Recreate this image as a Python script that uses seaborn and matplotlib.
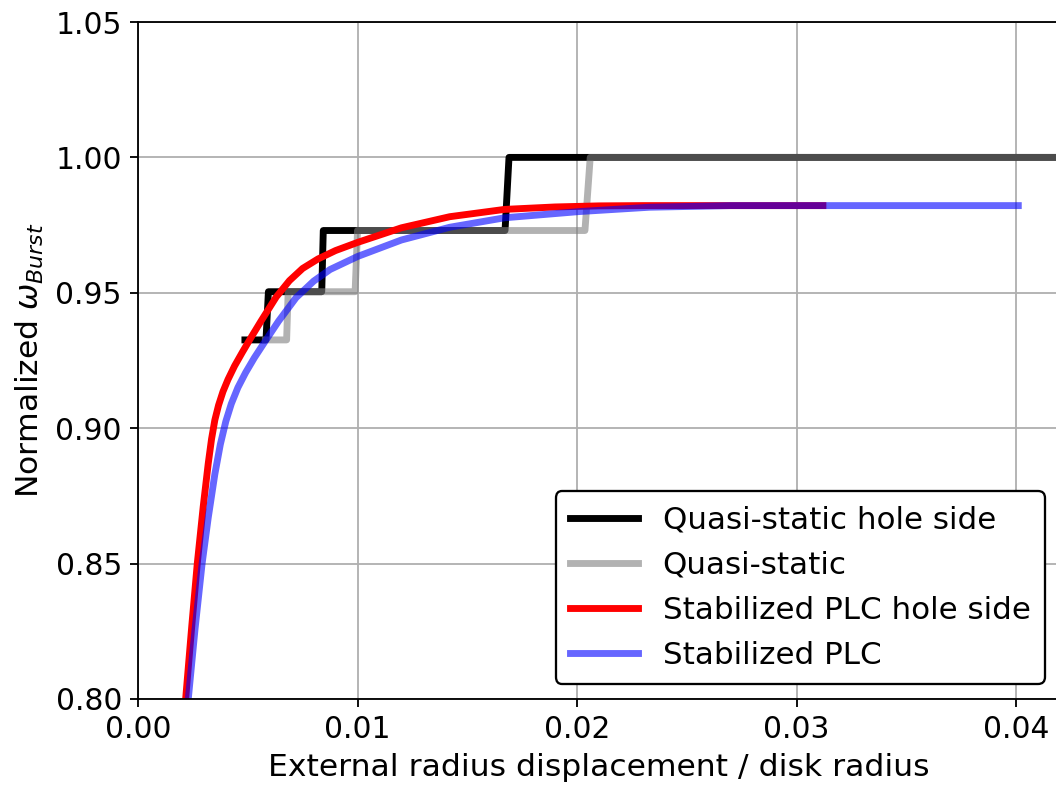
import numpy as np
import pandas as pd
import matplotlib
matplotlib.use("Agg")
import matplotlib.pyplot as plt
import seaborn as sns

# Quasi-static burst steps (hole side and overall)
qs_hole_x = [0.00487, 0.00583, 0.00594, 0.00837, 0.00844, 0.01672, 0.01690, 0.04500]
qs_hole_y = [0.9326, 0.9326, 0.9504, 0.9504, 0.9730, 0.9730, 1.0000, 1.0000]
qs_x = [0.00580, 0.00677, 0.00684, 0.00989, 0.01000, 0.02036, 0.02060, 0.04500]
qs_y = [0.9326, 0.9326, 0.9504, 0.9504, 0.9730, 0.9730, 1.0000, 1.0000]

# Stabilized PLC curves
plc_hole_x = [0.00217, 0.00245, 0.00270, 0.00297, 0.00320, 0.00335, 0.00350, 0.00367,
              0.00387, 0.00410, 0.00440, 0.00475, 0.00515, 0.00560, 0.00630, 0.00690,
              0.00750, 0.00820, 0.00900, 0.01000, 0.01200, 0.01420, 0.01670, 0.01900,
              0.02100, 0.02300, 0.03120]
plc_hole_y = [0.8000, 0.8270, 0.8500, 0.8710, 0.8870, 0.8960, 0.9030, 0.9085,
              0.9135, 0.9180, 0.9230, 0.9280, 0.9335, 0.9395, 0.9485, 0.9545,
              0.9590, 0.9625, 0.9656, 0.9686, 0.9740, 0.9781, 0.9808, 0.9817,
              0.9821, 0.9822, 0.9822]
plc_x = [0.00229, 0.00260, 0.00292, 0.00320, 0.00350, 0.00375, 0.00400, 0.00425,
         0.00455, 0.00490, 0.00530, 0.00580, 0.00640, 0.00720, 0.00800, 0.00875,
         0.01000, 0.01200, 0.01420, 0.01670, 0.02010, 0.02330, 0.02700, 0.04010]
plc_y = [0.8000, 0.8260, 0.8500, 0.8670, 0.8830, 0.8940, 0.9025, 0.9090,
         0.9150, 0.9205, 0.9260, 0.9322, 0.9395, 0.9482, 0.9543, 0.9586,
         0.9634, 0.9695, 0.9742, 0.9777, 0.9800, 0.9816, 0.9822, 0.9822]

plt.rcParams['font.family'] = ['DejaVu Sans']
plt.rcParams['font.size'] = 13

fig = plt.figure(figsize=(6.4, 785 / 165), dpi=165)
ax = fig.add_axes([138 / 1056, 1 - 699 / 785, (1060 - 138) / 1056, (699 - 22) / 785])

lw = 3
sns.lineplot(x=qs_hole_x, y=qs_hole_y, color='k', lw=lw, sort=False, estimator=None,
             label='Quasi-static hole side', ax=ax)
sns.lineplot(x=qs_x, y=qs_y, color='gray', alpha=0.6, lw=lw, sort=False, estimator=None,
             label='Quasi-static', ax=ax)
sns.lineplot(x=plc_hole_x, y=plc_hole_y, color='red', lw=lw, sort=False, estimator=None,
             label='Stabilized PLC hole side', ax=ax)
sns.lineplot(x=plc_x, y=plc_y, color='blue', alpha=0.6, lw=lw, sort=False, estimator=None,
             label='Stabilized PLC', ax=ax)

ax.set_xlim(0, 0.042)
ax.set_ylim(0.80, 1.05)
ax.set_xticks([0.0, 0.01, 0.02, 0.03, 0.04])
ax.set_yticks([0.80, 0.85, 0.90, 0.95, 1.00, 1.05])
ax.xaxis.set_major_formatter(matplotlib.ticker.FormatStrFormatter('%.2f'))
ax.yaxis.set_major_formatter(matplotlib.ticker.FormatStrFormatter('%.2f'))
ax.grid(True, color='#b0b0b0', lw=0.8)
ax.set_axisbelow(True)
ax.set_xlabel('External radius displacement / disk radius', fontsize=13.7)
ax.set_ylabel(r'Normalized $\omega_{Burst}$', fontsize=13.7)

leg = ax.legend(loc='lower right', frameon=True, fancybox=True, framealpha=1,
                fontsize=13.5, handlelength=2.2, borderpad=0.45, labelspacing=0.52)
leg.get_frame().set_edgecolor('k')
for line in leg.get_lines():
    line.set_linewidth(lw)

fig.savefig('out.png', dpi=165)
